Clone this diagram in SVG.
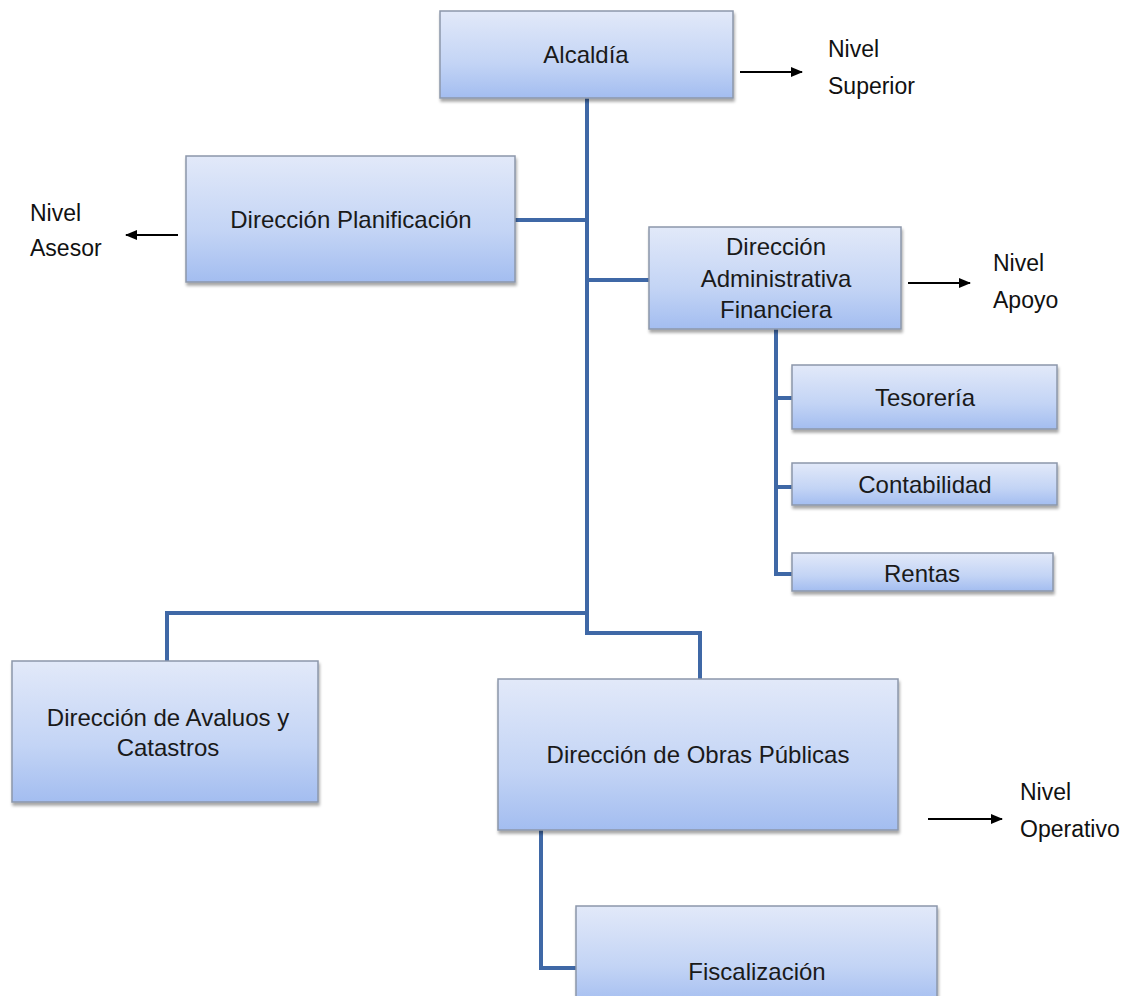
<svg xmlns="http://www.w3.org/2000/svg" width="1136" height="996" viewBox="0 0 1136 996">
<defs>
<linearGradient id="g" x1="0" y1="0" x2="0" y2="1">
<stop offset="0" stop-color="#e2e9f9"/>
<stop offset="0.6" stop-color="#c3d4f5"/>
<stop offset="1" stop-color="#a3bdf0"/>
</linearGradient>
<filter id="sh" x="-5%" y="-5%" width="110%" height="120%">
<feDropShadow dx="1" dy="3" stdDeviation="1.5" flood-color="#000" flood-opacity="0.35"/>
</filter>
<marker id="ar" viewBox="0 0 12 12" refX="11" refY="6" markerWidth="12" markerHeight="12" markerUnits="userSpaceOnUse" orient="auto">
<path d="M0,1 L12,6 L0,11 z" fill="#000"/>
</marker>
</defs>
<style>
.box{fill:url(#g);stroke:#8c97aa;stroke-width:1.5;filter:url(#sh)}
.t{font-family:"Liberation Sans","Open Sans",sans-serif;font-size:24px;fill:#1a1a1a;text-anchor:middle}
.l{font-family:"Liberation Sans","Open Sans",sans-serif;font-size:23px;fill:#111}
.c{fill:none;stroke:#3f68a6;stroke-width:4}
.a{stroke:#000;stroke-width:2;marker-end:url(#ar)}
</style>
<rect width="1136" height="996" fill="#fff"/>
<g id="connectors">
<path class="c" d="M587,98 V613"/>
<path class="c" d="M515,220 H587"/>
<path class="c" d="M587,280 H649"/>
<path class="c" d="M587,613 H167 V661"/>
<path class="c" d="M587,611 V633 H700 V679"/>
<path class="c" d="M776,329 V574 H792"/>
<path class="c" d="M776,398 H792"/>
<path class="c" d="M776,487 H792"/>
<path class="c" d="M541,830 V968 H576"/>
<line class="a" x1="740" y1="72" x2="802" y2="72"/>
<line class="a" x1="178" y1="235" x2="126" y2="235"/>
<line class="a" x1="908" y1="283" x2="970" y2="283"/>
<line class="a" x1="928" y1="819" x2="1002" y2="819"/>
</g>
<g id="alcaldia"><rect class="box" x="440" y="11" width="293" height="87"/><text class="t" x="586" y="63">Alcaldía</text></g>
<g id="nivel-superior"><text class="l" x="828" y="57">Nivel</text><text class="l" x="828" y="94">Superior</text></g>
<g id="planificacion"><rect class="box" x="186" y="156" width="329" height="126"/><text class="t" x="351" y="228">Dirección Planificación</text></g>
<g id="nivel-asesor"><text class="l" x="30" y="221" font-size="18">Nivel</text><text class="l" x="30" y="256" font-size="18">Asesor</text></g>
<g id="administrativa"><rect class="box" x="649" y="227" width="252" height="102"/><text class="t" x="776" y="255">Dirección</text><text class="t" x="776" y="287">Administrativa</text><text class="t" x="776" y="318">Financiera</text></g>
<g id="nivel-apoyo"><text class="l" x="993" y="271" font-size="24">Nivel</text><text class="l" x="993" y="308" font-size="24">Apoyo</text></g>
<g id="tesoreria"><rect class="box" x="792" y="365" width="265" height="64"/><text class="t" x="925" y="406">Tesorería</text></g>
<g id="contabilidad"><rect class="box" x="792" y="463" width="265" height="42"/><text class="t" x="925" y="493">Contabilidad</text></g>
<g id="rentas"><rect class="box" x="792" y="553" width="261" height="38"/><text class="t" x="922" y="582">Rentas</text></g>
<g id="avaluos"><rect class="box" x="12" y="661" width="306" height="141"/><text class="t" x="168" y="726">Dirección de Avaluos y</text><text class="t" x="168" y="756">Catastros</text></g>
<g id="obras"><rect class="box" x="498" y="679" width="400" height="151"/><text class="t" x="698" y="763">Dirección de Obras Públicas</text></g>
<g id="nivel-operativo"><text class="l" x="1020" y="800" font-size="24">Nivel</text><text class="l" x="1020" y="837" font-size="24">Operativo</text></g>
<g id="fiscalizacion"><rect class="box" x="576" y="906" width="361" height="100"/><text class="t" x="757" y="980">Fiscalización</text></g>
</svg>
